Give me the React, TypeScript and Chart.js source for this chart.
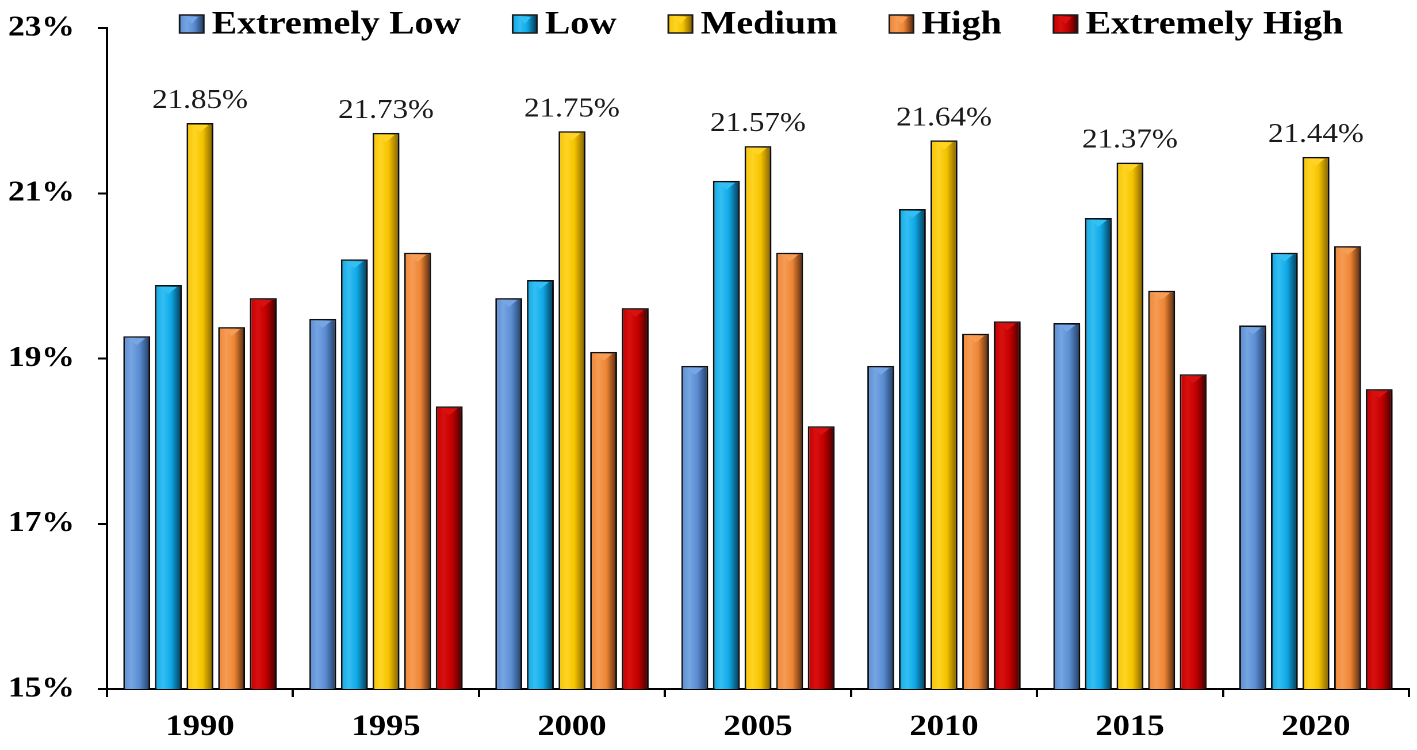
import { useEffect, useRef } from "react";
import { Chart, registerables } from "chart.js";

Chart.register(...registerables);

const years = ["1990", "1995", "2000", "2005", "2010", "2015", "2020"];
const seriesNames = ["Extremely Low", "Low", "Medium", "High", "Extremely High"];
const extremelyLow = [19.27, 19.48, 19.73, 18.91, 18.91, 19.43, 19.4];
const low = [19.89, 20.2, 19.95, 21.15, 20.81, 20.7, 20.28];
const medium = [21.85, 21.73, 21.75, 21.57, 21.64, 21.37, 21.44];
const high = [19.38, 20.28, 19.08, 20.28, 19.3, 19.82, 20.36];
const extremelyHigh = [19.73, 18.42, 19.61, 18.18, 19.45, 18.81, 18.63];
const yMin = 15;
const yMax = 23;
const yStep = 2;

// the original picture is stretched sideways, so the canvas is too
const WIDTH = 1417;
const HEIGHT = 750;
const LOGICAL_W = 1232;
const STRETCH = WIDTH / LOGICAL_W;
const FONT = "'Liberation Serif', 'Times New Roman', serif";

const palettes = [
  { base: "#5b8dd2", light: "#76a5e3", dark: "#203c64" },
  { base: "#0fa9e6", light: "#34bff3", dark: "#06344e" },
  { base: "#f5c400", light: "#ffd424", dark: "#7e5c00" },
  { base: "#ee8636", light: "#f69c54", dark: "#55270b" },
  { base: "#c40000", light: "#d81010", dark: "#3e0000" }
];

function fillFor(ctx: CanvasRenderingContext2D, i: number, x0: number, x1: number) {
  const p = palettes[i];
  const g = ctx.createLinearGradient(x0, 0, x1, 0);
  g.addColorStop(0, p.base);
  g.addColorStop(0.3, p.light);
  g.addColorStop(0.6, p.base);
  g.addColorStop(1, p.dark);
  return g;
}

const barLook = {
  id: "barLook",
  beforeDatasetsDraw(chart: any) {
    const ctx = chart.ctx as CanvasRenderingContext2D;
    chart.data.datasets.forEach((_ds: any, i: number) => {
      chart.getDatasetMeta(i).data.forEach((el: any) => {
        const g = fillFor(ctx, i, el.x - el.width / 2, el.x + el.width / 2);
        el.options = { ...el.options, backgroundColor: g };
      });
    });
    const dpr = chart.currentDevicePixelRatio || 1;
    ctx.save();
    ctx.shadowColor = "rgba(0,0,0,0.33)";
    ctx.shadowBlur = 8 * dpr;
    ctx.shadowOffsetX = 6 * dpr;
    ctx.shadowOffsetY = 3 * dpr;
  },
  afterDatasetsDraw(chart: any) {
    const ctx = chart.ctx as CanvasRenderingContext2D;
    ctx.restore();

    // bevel triangle on top of each bar
    chart.data.datasets.forEach((_ds: any, i: number) => {
      chart.getDatasetMeta(i).data.forEach((el: any) => {
        const hw = el.width * 0.32;
        ctx.save();
        ctx.fillStyle = palettes[i].light;
        ctx.beginPath();
        ctx.moveTo(el.x - hw, el.y + 2);
        ctx.lineTo(el.x + hw, el.y + 2);
        ctx.lineTo(el.x, el.y + 9);
        ctx.closePath();
        ctx.fill();
        ctx.restore();
      });
    });

    // value labels above the Medium bars
    const meta = chart.getDatasetMeta(2);
    ctx.save();
    ctx.font = `27px ${FONT}`;
    ctx.fillStyle = "#1a1a1a";
    ctx.textAlign = "center";
    ctx.textBaseline = "alphabetic";
    meta.data.forEach((el: any, j: number) => {
      ctx.fillText(medium[j].toFixed(2) + "%", el.x, el.y - 15);
    });
    ctx.restore();
  },
  afterDraw(chart: any) {
    const ctx = chart.ctx as CanvasRenderingContext2D;
    const area = chart.chartArea;
    const boxW = 21;
    const boxH = 18;
    const gapText = 7;
    const gapItem = 45;
    const cy = 24;
    ctx.save();
    ctx.font = `bold 33px ${FONT}`;
    const widths = seriesNames.map((n) => ctx.measureText(n).width);
    const total =
      widths.reduce((a, w) => a + boxW + gapText + w, 0) + gapItem * (seriesNames.length - 1);
    let x = (area.left + area.right) / 2 - total / 2 + 3;
    seriesNames.forEach((name, i) => {
      ctx.fillStyle = fillFor(ctx, i, x, x + boxW);
      ctx.fillRect(x, cy - boxH / 2, boxW, boxH);
      ctx.fillStyle = palettes[i].light;
      ctx.beginPath();
      ctx.moveTo(x + 5, cy - boxH / 2 + 2);
      ctx.lineTo(x + boxW - 5, cy - boxH / 2 + 2);
      ctx.lineTo(x + boxW / 2, cy);
      ctx.closePath();
      ctx.fill();
      ctx.strokeStyle = "#1a1a1a";
      ctx.lineWidth = 1.5;
      ctx.strokeRect(x, cy - boxH / 2, boxW, boxH);
      ctx.fillStyle = "#000";
      ctx.textAlign = "left";
      ctx.textBaseline = "middle";
      ctx.fillText(name, x + boxW + gapText, cy + 1);
      x += boxW + gapText + widths[i] + gapItem;
    });
    ctx.restore();
  }
};

export default function App() {
  const canvasRef = useRef<HTMLCanvasElement | null>(null);

  useEffect(() => {
    document.body.style.margin = "0";
    if (!canvasRef.current) return;

    const values = [extremelyLow, low, medium, high, extremelyHigh];
    const chart = new Chart(canvasRef.current, {
      type: "bar",
      data: {
        labels: years,
        datasets: values.map((v, i) => ({
          label: seriesNames[i],
          data: v,
          backgroundColor: palettes[i].base,
          borderColor: "#111",
          borderWidth: 1.5,
          categoryPercentage: 0.85,
          barPercentage: 0.85
        }))
      },
      options: {
        animation: false,
        responsive: true,
        maintainAspectRatio: false,
        devicePixelRatio: 2,
        layout: { padding: { top: 28, right: 7, bottom: 0, left: 0 } },
        plugins: {
          legend: { display: false },
          tooltip: { enabled: false }
        },
        scales: {
          x: {
            grid: {
              offset: true,
              drawOnChartArea: false,
              drawTicks: true,
              tickLength: 8,
              color: "#000",
              lineWidth: 2
            },
            border: { color: "#000", width: 2 },
            ticks: {
              color: "#000",
              padding: 12,
              font: { family: FONT, size: 30, weight: "bold" }
            },
            afterFit: (scale: any) => {
              scale.height = 61;
            }
          },
          y: {
            min: yMin,
            max: yMax,
            grid: {
              drawOnChartArea: false,
              drawTicks: true,
              tickLength: 8,
              color: "#000",
              lineWidth: 2
            },
            border: { color: "#000", width: 2 },
            ticks: {
              stepSize: yStep,
              color: "#000",
              padding: 20,
              font: { family: FONT, size: 29, weight: "bold" },
              callback: (v: any) => v + "%"
            },
            afterFit: (scale: any) => {
              scale.width = 93;
              // tick padding would otherwise push the plot top down
              scale.paddingTop = 0;
              scale.paddingBottom = 0;
            }
          }
        }
      },
      plugins: [barLook]
    });

    return () => chart.destroy();
  }, []);

  return (
    <div style={{ width: WIDTH, height: HEIGHT, overflow: "hidden", background: "#fff" }}>
      <div
        style={{
          position: "relative",
          width: LOGICAL_W,
          height: HEIGHT,
          transform: `scaleX(${STRETCH})`,
          transformOrigin: "0 0"
        }}
      >
        <canvas ref={canvasRef} />
      </div>
    </div>
  );
}
